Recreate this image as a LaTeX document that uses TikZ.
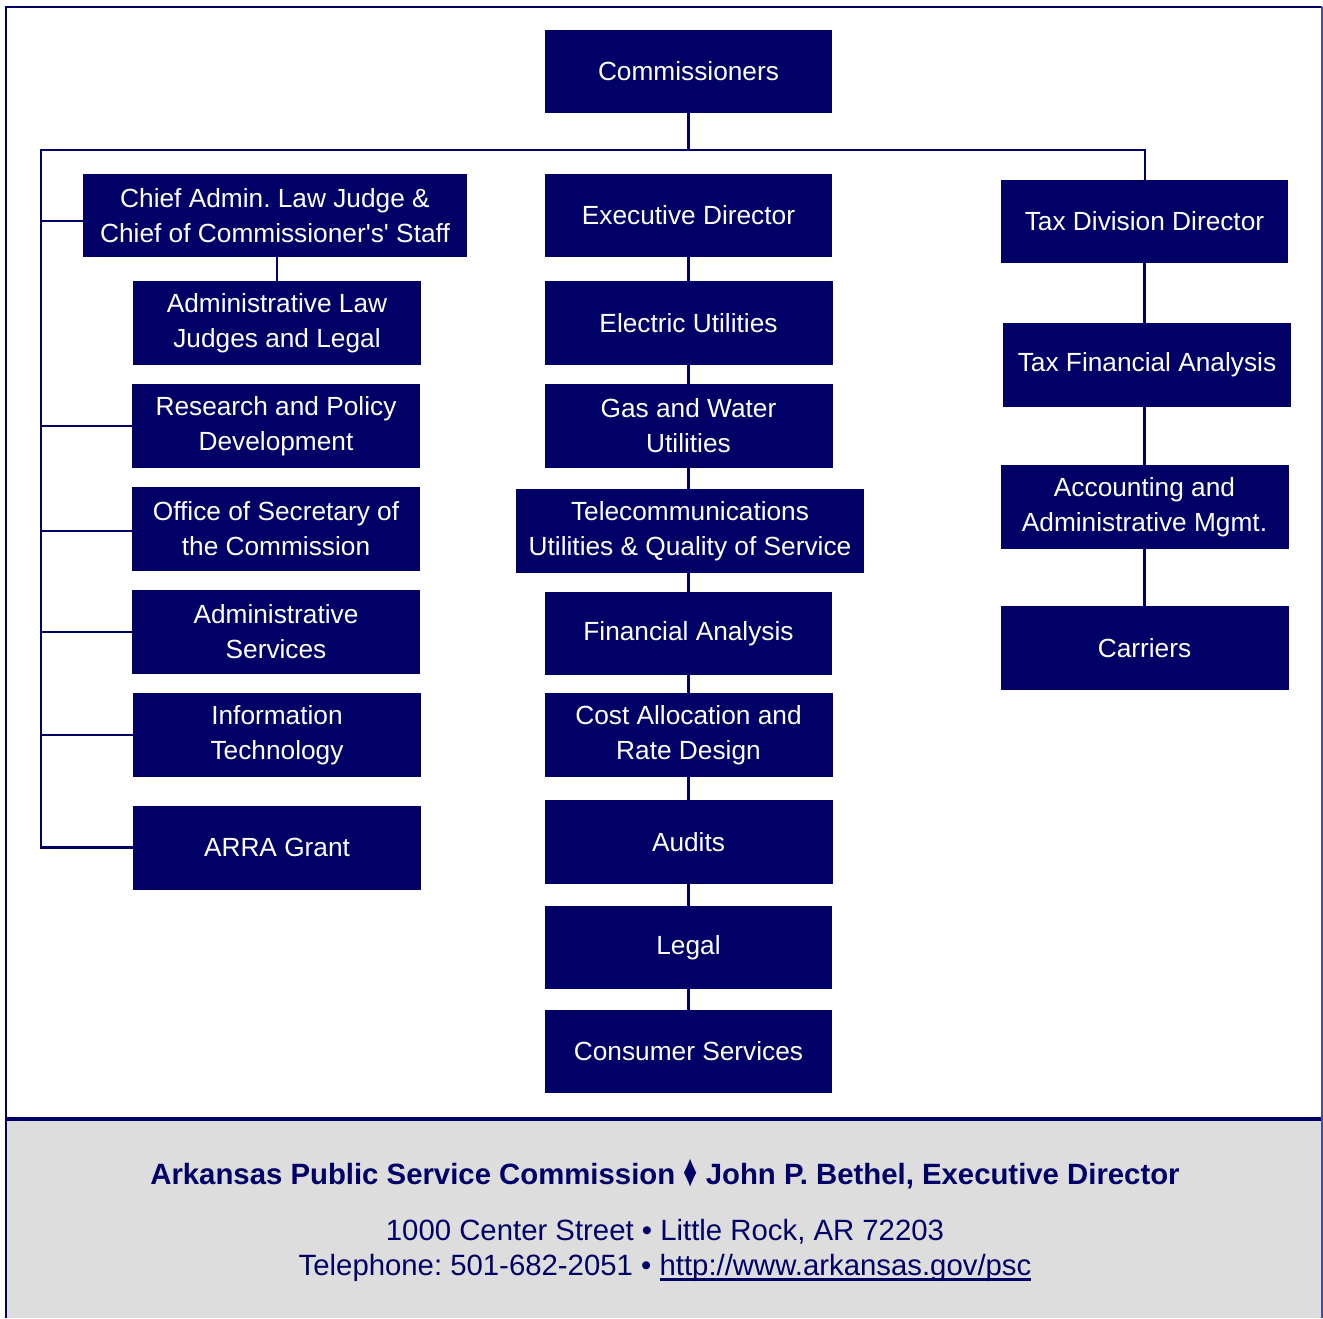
\documentclass[tikz,border=0pt]{standalone}
\usepackage{fontspec}
\setmainfont{Liberation Sans}
\frenchspacing
\definecolor{navy}{RGB}{0,0,102}
\definecolor{footgrey}{RGB}{221,221,221}
\newcommand\thickul[1]{\setbox0\hbox{#1}\rlap{\rule[-4.2pt]{\wd0}{1.9pt}}\box0}
\tikzset{
  org/.style={fill=navy, text=white, inner sep=0pt, align=center,
    font=\fontsize{19.7}{26.25}\selectfont,
    minimum width=287*0.75pt, minimum height=83*0.75pt},
  wide/.style={minimum width=288*0.75pt, minimum height=84*0.75pt},
  ln/.style={draw=navy, line width=1.6pt},
  foot/.style={text=navy, anchor=base, inner sep=0pt, font=\fontsize{22}{26}\selectfont}
}
\begin{document}
\begin{tikzpicture}[x=0.75pt, y=-0.75pt]
\useasboundingbox (0,0) rectangle (1323,1318);
% footer
\fill[footgrey] (7,1120) rectangle (1321,1318);
\draw[navy, line width=2.8pt] (7,1119) -- (1321,1119);
% frame
\draw[navy, line width=1.6pt] (6,1318) -- (6,7) -- (1322,7);
\draw[navy!70, line width=1pt] (1322,7) -- (1322,1318);

% nodes
\node[org] (comm) at (688.5,71.5) {Commissioners};

\node[org, minimum width=384*0.75pt] (chief) at (275,215.5) {Chief Admin. Law Judge \&\\Chief of Commissioner\textquotesingle s\textquotesingle{} Staff};
\node[org, wide] (alj) at (277,323) {Administrative Law\\Judges and Legal};
\node[org, wide] (rpd) at (276,426) {Research and Policy\\Development};
\node[org, wide] (osc) at (276,529) {Office of Secretary of\\the Commission};
\node[org, wide] (adms) at (276,632) {Administrative\\Services};
\node[org, wide] (it) at (277,735) {Information\\Technology};
\node[org, wide] (arra) at (277,847.5) {ARRA Grant};

\node[org] (exec) at (688.5,215.5) {Executive Director};
\node[org, wide] (elec) at (688.5,323) {Electric Utilities};
\node[org, wide] (gas) at (688.5,426) {Gas and Water\\Utilities};
\node[org, minimum width=348*0.75pt, minimum height=84*0.75pt] (tel) at (690,531) {Telecommunications\\Utilities \& Quality of Service};
\node[org] (fin) at (688.5,633.5) {Financial Analysis};
\node[org, wide] (cost) at (688.5,735) {Cost Allocation and\\Rate Design};
\node[org, wide] (aud) at (688.5,842) {Audits};
\node[org] (legal) at (688.5,947.5) {Legal};
\node[org] (cons) at (688.5,1051.5) {Consumer Services};

\node[org] (tax) at (1144.5,221.5) {Tax Division Director};
\node[org, wide] (taxfin) at (1147,365) {Tax Financial Analysis};
\node[org, wide] (acct) at (1144.5,507) {Accounting and\\Administrative Mgmt.};
\node[org, wide] (carr) at (1144.5,648) {Carriers};

% bus coordinates
\coordinate (busL) at (41,150);
\coordinate (busR) at (1145,150);

% connectors
\draw[ln] (comm.south) -- (comm.south |- busL);
\draw[ln] (arra.west) -| (busL) -- (busR) -- (busR |- tax.north);
\draw[ln] ([yshift=-4pt]chief.west) -- ([yshift=-4pt]chief.west -| busL);
\draw[ln] (rpd.west) -- (rpd.west -| busL);
\draw[ln] ([yshift=-1.5pt]osc.west) -- ([yshift=-1.5pt]osc.west -| busL);
\draw[ln] (adms.west) -- (adms.west -| busL);
\draw[ln] (it.west) -- (it.west -| busL);
\draw[ln] (alj.north) -- (alj.north |- chief.south);

\draw[ln] (exec.south) -- (elec.north);
\draw[ln] (elec.south) -- (gas.north);
\draw[ln] (gas.south) -- (gas.south |- tel.north);
\draw[ln] (fin.north |- tel.south) -- (fin.north);
\draw[ln] (fin.south) -- (cost.north);
\draw[ln] (cost.south) -- (aud.north);
\draw[ln] (aud.south) -- (legal.north);
\draw[ln] (legal.south) -- (cons.north);

\draw[ln] (tax.south) -- (tax.south |- taxfin.north);
\draw[ln] (tax.south |- taxfin.south) -- (acct.north);
\draw[ln] (acct.south) -- (carr.north);

% footer text
\node[foot, font=\fontsize{22}{26}\selectfont\bfseries] (f1) at (665,1184) {Arkansas Public Service Commission \raisebox{-1.5pt}{\scalebox{0.95}[1.55]{♦}} John P. Bethel, Executive Director};
\node[foot] (f2) at (665,1240) {1000 Center Street • Little Rock, AR 72203};
\node[foot] (f3) at (665,1275) {Telephone: 501-682-2051 • \thickul{http://www.arkansas.gov/psc}};
\end{tikzpicture}
\end{document}
